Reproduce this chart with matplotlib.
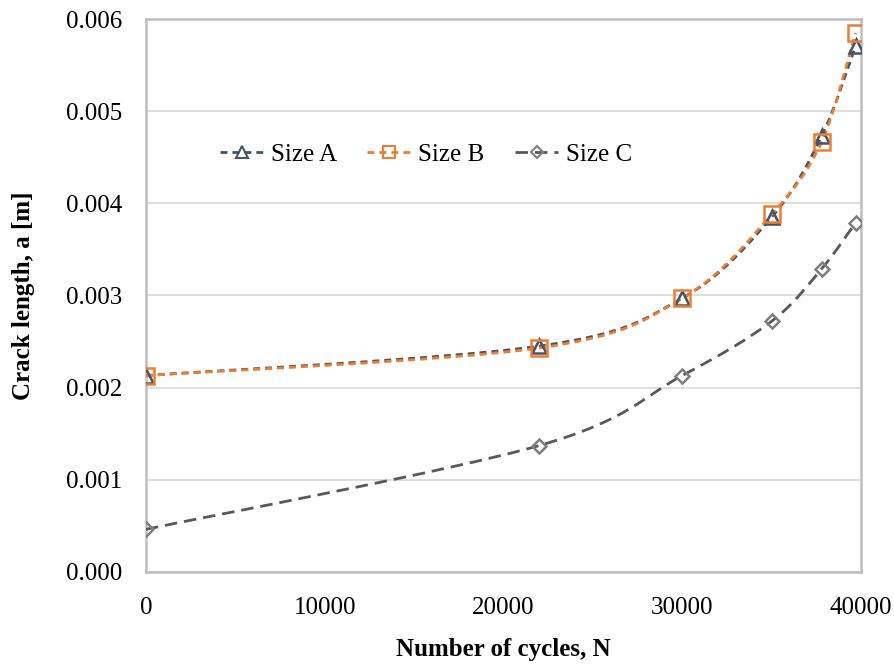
import numpy as np
import matplotlib.pyplot as plt
from matplotlib.path import Path
from matplotlib.patches import PathPatch
from matplotlib.lines import Line2D

plt.rcParams['font.family'] = ['Liberation Serif', 'DejaVu Serif']

# data
cycles = [0, 22000, 30000, 35000, 37800, 39700]
size_a = [0.00213, 0.00245, 0.00297, 0.00385, 0.00473, 0.00571]
size_b = [0.00213, 0.00243, 0.00297, 0.00388, 0.00467, 0.00585]
size_c = [0.00046, 0.00137, 0.00213, 0.00272, 0.00329, 0.00379]
labels = ['Size A', 'Size B', 'Size C']


def smooth_path(x, y):
    # excel-like smoothed line: cubic bezier through the points
    pts = np.column_stack([x, y]).astype(float)
    n = len(pts)
    verts = [pts[0]]
    codes = [Path.MOVETO]
    for i in range(n - 1):
        p0 = pts[i - 1] if i > 0 else pts[i]
        p1 = pts[i]
        p2 = pts[i + 1]
        p3 = pts[i + 2] if i + 2 < n else pts[i + 1]
        c1 = p1 + (p2 - p0) / 6.0
        c2 = p2 - (p3 - p1) / 6.0
        verts += [c1, c2, p2]
        codes += [Path.CURVE4] * 3
    return Path(verts, codes)


fig, ax = plt.subplots(figsize=(8.95, 6.64), dpi=100)
fig.subplots_adjust(left=0.163, right=0.962, top=0.971, bottom=0.139)

styles = [
    dict(color='#44546A', mec='#44546A', marker='^', dashes=(2.5, 1.8), ms=10),
    dict(color='#ED7D31', mec='#ED7D31', marker='s', dashes=(2.5, 1.8), ms=11),
    dict(color='#595959', mec='#7F7F7F', marker='D', dashes=(4.5, 2.5), ms=7.5),
]
for ys, st in zip([size_c, size_a, size_b], [styles[2], styles[0], styles[1]]):
    patch = PathPatch(smooth_path(cycles, ys), fill=False, edgecolor=st['color'],
                      lw=2.0, linestyle=(0, st['dashes']), zorder=3)
    ax.add_patch(patch)
    ax.plot(cycles, ys, linestyle='none', marker=st['marker'], ms=st['ms'],
            mfc='none', mec=st['mec'], mew=1.8, zorder=4)

handles = []
for st, lab in zip(styles, labels):
    handles.append(Line2D([], [], color=st['color'], lw=2.0, dashes=st['dashes'],
                          marker=st['marker'], ms=st['ms'] * 0.8, mfc='none',
                          mec=st['mec'], mew=1.5, label=lab))

ax.set_xlim(0, 40000)
ax.set_ylim(0, 0.006)
ax.set_xticks([0, 10000, 20000, 30000, 40000])
ax.set_yticks(np.arange(0, 0.0061, 0.001))
ax.set_yticklabels(['%.3f' % v for v in np.arange(0, 0.0061, 0.001)])
ax.tick_params(length=0, labelsize=18)
ax.tick_params(axis='y', pad=17)
ax.tick_params(axis='x', pad=18)
ax.grid(axis='y', color='#D9D9D9', lw=1.2)
ax.set_axisbelow(True)
for s in ax.spines.values():
    s.set_color('#BFBFBF')
    s.set_linewidth(1.8)

ax.set_xlabel('Number of cycles, N', fontsize=18, fontweight='bold', labelpad=14)
ax.set_ylabel('Crack length, a [m]', fontsize=18, fontweight='bold', labelpad=22)

ax.legend(handles=handles, ncol=3, frameon=False, fontsize=18,
          loc='center left', bbox_to_anchor=(0.072, 0.755),
          handlelength=1.75, handletextpad=0.3, columnspacing=1.2)

plt.savefig('out.png', dpi=100)
